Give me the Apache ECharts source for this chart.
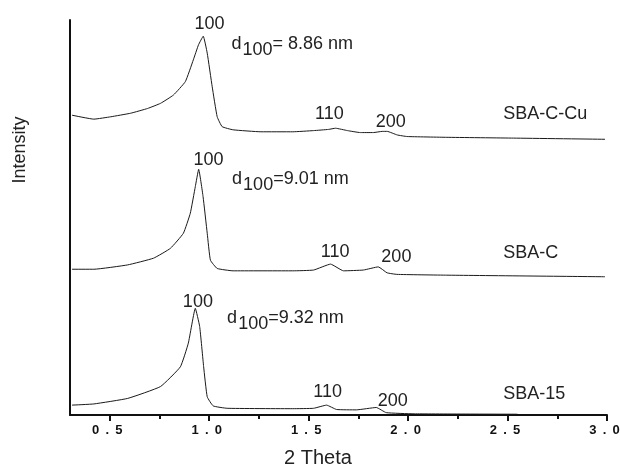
<!DOCTYPE html>
<html>
<head>
<meta charset="utf-8">
<script src="https://cdn.jsdelivr.net/npm/echarts@6/dist/echarts.min.js"></script>
<style>
  html, body { margin: 0; padding: 0; background: #fff; }
  #main { width: 620px; height: 468px; }
</style>
</head>
<body>
<div id="main"></div>
<script>
// XRD patterns: [2 theta, intensity (a.u., stacked)]
const sbaCCu = [
  [0.31, 75.9], [0.42, 74.9], [0.505, 75.5], [0.605, 76.4], [0.69, 77.6], [0.755, 78.9],
  [0.82, 81.0], [0.88, 84.4], [0.92, 89.9], [0.946, 93.7], [0.97, 95.9], [0.99, 91.6],
  [1.015, 83.1], [1.04, 75.5], [1.065, 73.0], [1.12, 72.2], [1.26, 71.7], [1.42, 71.7],
  [1.525, 72.0], [1.6, 72.3], [1.635, 72.6], [1.695, 72.0], [1.76, 71.5], [1.825, 71.5],
  [1.87, 71.8], [1.895, 71.8], [1.945, 70.9], [1.995, 70.5], [2.195, 70.3], [2.53, 70.1], [2.99, 69.8]
]
const sbaC = [
  [0.31, 36.9], [0.42, 36.9], [0.59, 38.0], [0.72, 39.7], [0.805, 42.2], [0.87, 46.0],
  [0.905, 51.1], [0.93, 57.8], [0.947, 62.2], [0.969, 55.3], [0.99, 46.0], [1.006, 39.2],
  [1.04, 37.1], [1.12, 36.5], [1.42, 36.5], [1.525, 36.7], [1.61, 38.2], [1.675, 36.5],
  [1.775, 36.7], [1.85, 37.5], [1.894, 36.0], [1.944, 35.6], [2.195, 35.4], [2.99, 35.0]
]
const sba15 = [
  [0.31, 2.5], [0.42, 2.8], [0.59, 4.2], [0.755, 7.2], [0.855, 12.2], [0.895, 18.2],
  [0.93, 27.0], [0.952, 22.4], [0.972, 12.2], [0.99, 4.6], [1.02, 2.3], [1.09, 1.7],
  [1.42, 1.6], [1.525, 1.7], [1.59, 2.5], [1.64, 1.4], [1.74, 1.3], [1.84, 1.9],
  [1.89, 0.6], [2.03, 0.3], [2.55, 0.2]
]
const xTicks = [0.5, 1.0, 1.5, 2.0, 2.5, 3.0]

// label anchors in data coords: [text, 2theta, intensity, align]
const cuLabels = [['100', 1.001, 99.1, 'center'], ['110', 1.604, 76.2, 'center'], ['200', 1.913, 74.1, 'center'], ['SBA-C-Cu', 2.478, 76.3, 'left']]
const cLabels = [['100', 0.996, 64.6, 'center'], ['110', 1.633, 41.3, 'center'], ['200', 1.941, 39.9, 'center'], ['SBA-C', 2.478, 40.9, 'left']]
const s15Labels = [['100', 0.943, 28.5, 'center'], ['110', 1.595, 5.7, 'center'], ['200', 1.923, 3.6, 'center'], ['SBA-15', 2.478, 5.3, 'left']]
// d-spacing notes: [rest of text, 2theta, intensity]
const cuD = ['= 8.86 nm', 1.1116, 93.4]
const cD = ['=9.01 nm', 1.115, 59.2]
const s15D = ['=9.32 nm', 1.09, 24.1]

const FONT = "'Liberation Sans', Arial, sans-serif"
const INK = '#222'

function marks (labels, d) {
  const items = labels.map(l => ({
    coord: [l[1], l[2]],
    value: l[0],
    label: { align: l[3] }
  }))
  items.push({
    coord: [d[1], d[2]],
    value: d[0],
    label: {
      align: 'left',
      formatter: '{m|d}{s|100}{m|' + d[0] + '}',
      rich: {
        m: { fontSize: 18, fontFamily: FONT, color: INK, lineHeight: 22, verticalAlign: 'top' },
        s: { fontSize: 18, fontFamily: FONT, color: INK, lineHeight: 22, padding: [6, 0, 0, 1], verticalAlign: 'top' }
      }
    }
  })
  return {
    symbol: 'circle',
    symbolSize: 0,
    silent: true,
    animation: false,
    itemStyle: { color: 'rgba(0,0,0,0)' },
    label: {
      show: true,
      position: [0, 0],
      verticalAlign: 'middle',
      formatter: p => p.value,
      fontSize: 18,
      fontFamily: FONT,
      color: INK
    },
    data: items
  }
}

function line (name, data, labels, d) {
  return {
    name: name,
    type: 'line',
    data: data,
    showSymbol: false,
    symbol: 'none',
    smooth: 0.12,
    lineStyle: { color: '#1a1a1a', width: 1 },
    animation: false,
    markPoint: marks(labels, d)
  }
}

const myChart = echarts.init(document.getElementById('main'))
myChart.setOption({
  backgroundColor: '#fff',
  grid: { left: 70, right: 13, top: 20, bottom: 53, outerBoundsMode: 'none' },
  xAxis: {
    type: 'value',
    min: 0.3,
    max: 3.0,
    splitNumber: 5,
    axisLine: { lineStyle: { color: '#111', width: 2 } },
    axisTick: { show: true, customValues: xTicks, length: 6, lineStyle: { color: '#111', width: 2 } },
    minorTick: { show: true, splitNumber: 2, length: 4, lineStyle: { color: '#111', width: 2 } },
    splitLine: { show: false },
    axisLabel: {
      customValues: xTicks,
      margin: 9,
      padding: [0, 5, 0, 0],
      color: '#111',
      fontSize: 13,
      fontWeight: 'bold',
      fontFamily: FONT,
      formatter: v => v.toFixed(1).split('').join('\u2009 ')
    }
  },
  yAxis: {
    type: 'value',
    min: 0,
    max: 100,
    axisLine: { show: true, lineStyle: { color: '#111', width: 2 } },
    axisTick: { show: false },
    axisLabel: { show: false },
    splitLine: { show: false }
  },
  graphic: [
    {
      type: 'text', x: 20, y: 150, rotation: Math.PI / 2,
      style: { text: 'Intensity', fill: INK, font: '18px ' + FONT, align: 'center', verticalAlign: 'middle' }
    },
    {
      type: 'text', x: 318, y: 458,
      style: { text: '2 Theta', fill: INK, font: '20px ' + FONT, align: 'center', verticalAlign: 'middle' }
    }
  ],
  series: [
    line('SBA-C-Cu', sbaCCu, cuLabels, cuD),
    line('SBA-C', sbaC, cLabels, cD),
    line('SBA-15', sba15, s15Labels, s15D)
  ]
})
</script>
</body>
</html>
